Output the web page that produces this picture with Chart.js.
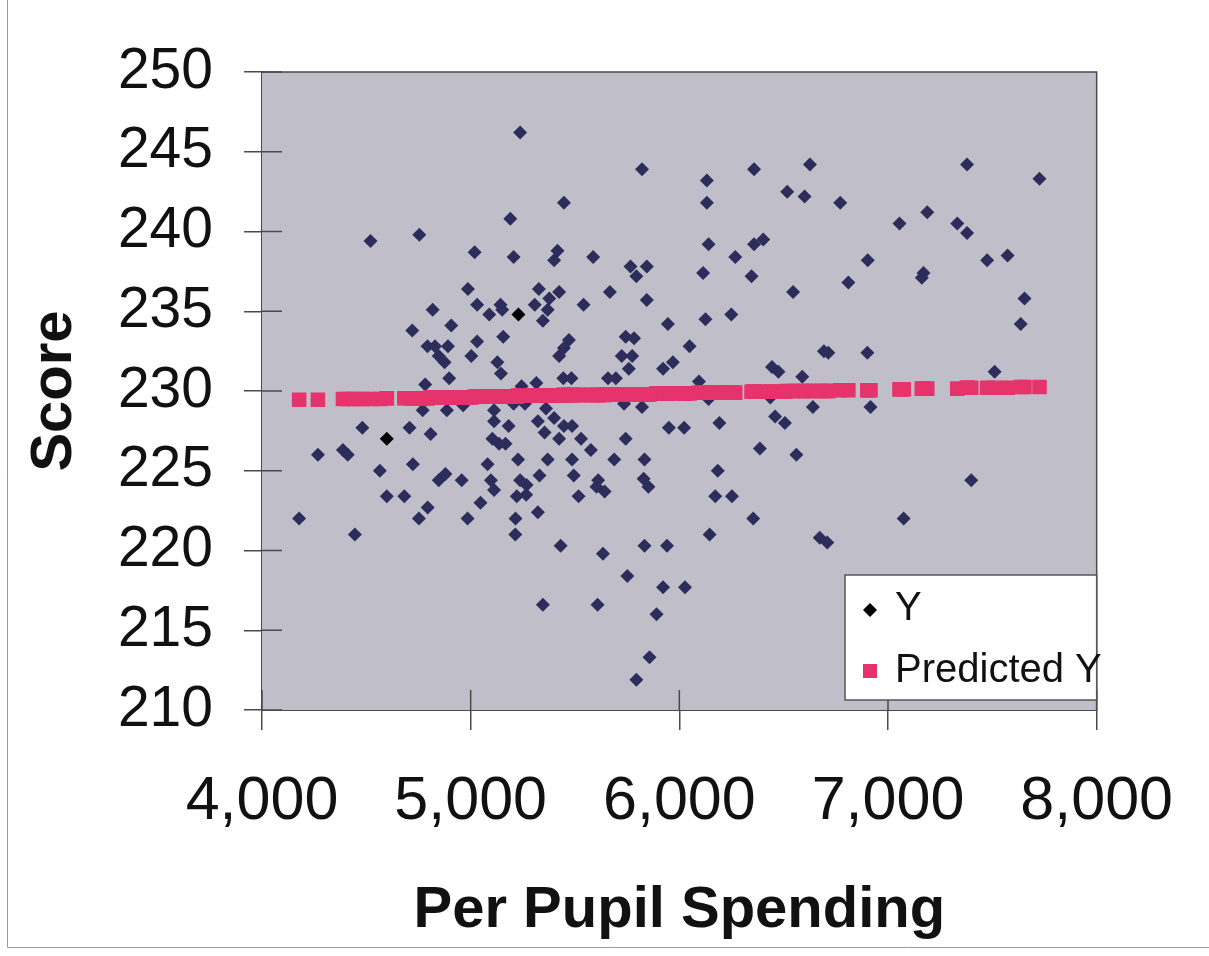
<!DOCTYPE html>
<html>
<head>
<meta charset="utf-8">
<script src="https://cdn.jsdelivr.net/npm/chart.js@4.4.1/dist/chart.umd.min.js"></script>
<style>
  html, body { margin: 0; padding: 0; background: #ffffff; }
  #wrap { position: relative; width: 1209px; height: 956px; }
  canvas { display: block; }
</style>
</head>
<body>
<div id="wrap"><canvas id="chart" width="1209" height="956"></canvas></div>
<script>
// Per pupil spending ($) for each district
const spending = [
  5237, 5190, 4520, 4754, 5019, 5206, 4987, 5031, 5143, 5151,
  5229, 5089, 4818, 4907, 4720, 5031, 5156, 4793, 4829, 4891,
  4847, 4875, 5003, 5128, 5145, 4897, 4782, 5244, 4770, 4886,
  4964, 5112, 5112, 5206, 5260, 4707, 4808, 4598, 4481, 5182,
  5104, 5136, 5167, 4268, 4388, 4411, 4565, 4723, 5081, 5227,
  4847, 4879, 4957, 5097, 5112, 5237, 5268, 5266, 5221, 4598,
  4682, 4794, 5047, 4752, 4985, 5215, 5214, 4178, 4445, 5327,
  5307, 5346, 5315, 5400, 5416, 5424, 5377, 5369, 5447, 5587,
  5541, 5667, 5766, 5794, 5844, 5844, 5821, 6132, 6132, 6358,
  6626, 6517, 6600, 6140, 6358, 6402, 6268, 6114, 6346, 6545,
  5945, 6125, 6249, 5471, 5447, 5424, 5743, 5783, 5724, 5774,
  5758, 5922, 5969, 6049, 6444, 6475, 6589, 6693, 5444, 5483,
  5658, 5696, 6094, 5361, 5735, 5821, 6140, 6436, 5400, 5322,
  5354, 5447, 5486, 5424, 5529, 5576, 5743, 5950, 6023, 6192,
  6459, 6506, 6640, 5369, 5486, 5688, 5833, 5330, 5494, 5611,
  5603, 5642, 5829, 5852, 6184, 5517, 6172, 6252, 6386, 6561,
  5322, 6354, 6145, 6673, 6709, 5431, 5634, 5833, 5941, 5751,
  5922, 6027, 5346, 5608, 5891, 5857, 5794, 6771, 7379, 7726,
  7188, 7055, 7332, 7379, 6903, 7170, 7162, 6810, 7475, 7573,
  7654, 7636, 6714, 6901, 7511, 6916, 7399, 7075
];

// Observed test score (Y)
const score = [
  246.2, 240.8, 239.4, 239.8, 238.7, 238.4, 236.4, 235.4, 235.4, 235.1,
  234.8, 234.8, 235.1, 234.1, 233.8, 233.1, 233.4, 232.8, 232.8, 232.8,
  232.2, 231.8, 232.2, 231.8, 231.1, 230.8, 230.4, 230.3, 228.8, 228.8,
  229.1, 228.8, 228.1, 229.2, 229.2, 227.7, 227.3, 227.0, 227.7, 227.8,
  227.0, 226.7, 226.7, 226.0, 226.3, 226.0, 225.0, 225.4, 225.4, 225.7,
  224.4, 224.8, 224.4, 224.4, 223.8, 224.4, 224.1, 223.5, 223.4, 223.4,
  223.4, 222.7, 223.0, 222.0, 222.0, 222.0, 221.0, 222.0, 221.0, 236.4,
  235.4, 234.4, 230.5, 238.2, 238.8, 236.2, 235.8, 235.1, 241.8, 238.4,
  235.4, 236.2, 237.8, 237.2, 237.8, 235.7, 243.9, 243.2, 241.8, 243.9,
  244.2, 242.5, 242.2, 239.2, 239.2, 239.5, 238.4, 237.4, 237.2, 236.2,
  234.2, 234.5, 234.8, 233.2, 232.7, 232.2, 233.4, 233.3, 232.2, 232.2,
  231.4, 231.4, 231.8, 232.8, 231.5, 231.2, 230.9, 232.5, 230.8, 230.8,
  230.8, 230.8, 230.6, 228.9, 229.2, 229.0, 229.5, 229.6, 228.3, 228.1,
  227.4, 227.8, 227.8, 227.0, 227.0, 226.3, 227.0, 227.7, 227.7, 228.0,
  228.4, 228.0, 229.0, 225.7, 225.7, 225.7, 225.7, 224.7, 224.7, 224.4,
  224.0, 223.7, 224.5, 224.0, 225.0, 223.4, 223.4, 223.4, 226.4, 226.0,
  222.4, 222.0, 221.0, 220.8, 220.5, 220.3, 219.8, 220.3, 220.3, 218.4,
  217.7, 217.7, 216.6, 216.6, 216.0, 213.3, 211.9, 241.8, 244.2, 243.3,
  241.2, 240.5, 240.5, 239.9, 238.2, 237.4, 237.1, 236.8, 238.2, 238.5,
  235.8, 234.2, 232.4, 232.4, 231.2, 229.0, 224.4, 222.0
];

// Fitted score (Predicted Y) at each district's spending level
const predicted = [
  229.70, 229.65, 229.50, 229.55, 229.65, 229.65, 229.60, 229.65, 229.65, 229.65,
  229.70, 229.65, 229.60, 229.60, 229.55, 229.65, 229.65, 229.55, 229.60, 229.60,
  229.60, 229.60, 229.60, 229.65, 229.65, 229.60, 229.55, 229.70, 229.55, 229.60,
  229.60, 229.65, 229.65, 229.65, 229.70, 229.55, 229.60, 229.55, 229.50, 229.65,
  229.65, 229.65, 229.65, 229.45, 229.50, 229.50, 229.50, 229.55, 229.65, 229.70,
  229.60, 229.60, 229.60, 229.65, 229.65, 229.70, 229.70, 229.70, 229.65, 229.55,
  229.55, 229.55, 229.65, 229.55, 229.60, 229.65, 229.65, 229.45, 229.50, 229.70,
  229.70, 229.70, 229.70, 229.70, 229.70, 229.70, 229.70, 229.70, 229.75, 229.75,
  229.75, 229.80, 229.80, 229.80, 229.80, 229.80, 229.80, 229.90, 229.90, 229.95,
  230.00, 230.00, 230.00, 229.90, 229.95, 229.95, 229.90, 229.90, 229.95, 230.00,
  229.85, 229.90, 229.90, 229.75, 229.75, 229.70, 229.80, 229.80, 229.80, 229.80,
  229.80, 229.85, 229.85, 229.85, 229.95, 229.95, 230.00, 230.00, 229.75, 229.75,
  229.80, 229.80, 229.90, 229.70, 229.80, 229.80, 229.90, 229.95, 229.70, 229.70,
  229.70, 229.75, 229.75, 229.70, 229.75, 229.75, 229.80, 229.85, 229.85, 229.90,
  229.95, 229.95, 230.00, 229.70, 229.75, 229.80, 229.80, 229.70, 229.75, 229.75,
  229.75, 229.75, 229.80, 229.80, 229.90, 229.75, 229.90, 229.90, 229.95, 230.00,
  229.70, 229.95, 229.90, 230.00, 230.00, 229.70, 229.75, 229.80, 229.85, 229.80,
  229.85, 229.85, 229.70, 229.75, 229.85, 229.80, 229.80, 230.05, 230.20, 230.25,
  230.15, 230.10, 230.15, 230.20, 230.05, 230.15, 230.15, 230.05, 230.20, 230.20,
  230.25, 230.25, 230.00, 230.05, 230.20, 230.05, 230.20, 230.10
];

// Two observations shown in black
const highlighted = [10, 37];

const xTickValues = [4000, 5000, 6000, 7000, 8000];
const yTickValues = [210, 215, 220, 225, 230, 235, 240, 245, 250];

const seriesNames = ['Y', 'Predicted Y'];
const axisTitles = { x: 'Per Pupil Spending', y: 'Score' };

const FONT = "'Liberation Sans', Arial, Helvetica, sans-serif";
const NAVY = '#2d2d5c';
const PINK = '#e6336b';
const PLOT_BG = '#c0bec9';
const AXIS = '#4a4a4a';

const yPoints = spending.map((x, i) => ({ x: x, y: score[i] }));
const pPoints = spending.map((x, i) => ({ x: x, y: predicted[i] }));
const yColors = spending.map((_, i) => highlighted.includes(i) ? '#000000' : NAVY);

// Gray plot area, closing frame and cross tick marks
const plotFrame = {
  id: 'plotFrame',
  beforeDatasetsDraw(chart) {
    const { ctx, chartArea: a } = chart;
    ctx.save();
    ctx.fillStyle = PLOT_BG;
    ctx.fillRect(a.left, a.top, a.right - a.left, a.bottom - a.top);
    ctx.restore();
  },
  afterDatasetsDraw(chart) {
    const { ctx, chartArea: a, scales } = chart;
    ctx.save();
    ctx.strokeStyle = AXIS;
    ctx.lineWidth = 1.5;
    ctx.beginPath();
    ctx.moveTo(a.left, a.top);
    ctx.lineTo(a.right, a.top);
    ctx.lineTo(a.right, a.bottom);
    ctx.stroke();
    // inner half of the cross tick marks
    ctx.beginPath();
    scales.x.ticks.forEach(t => {
      const px = scales.x.getPixelForValue(t.value);
      ctx.moveTo(px, a.bottom);
      ctx.lineTo(px, a.bottom - 20);
    });
    scales.y.ticks.forEach(t => {
      const py = scales.y.getPixelForValue(t.value);
      ctx.moveTo(a.left, py);
      ctx.lineTo(a.left + 20, py);
    });
    ctx.stroke();
    ctx.restore();
  }
};

// Boxed legend in the lower right corner of the plot
const boxLegend = {
  id: 'boxLegend',
  afterDraw(chart) {
    const { ctx, chartArea: a } = chart;
    const left = 845, top = 575, right = a.right, bottom = 700;
    ctx.save();
    ctx.fillStyle = '#ffffff';
    ctx.fillRect(left, top, right - left, bottom - top);
    ctx.strokeStyle = '#555555';
    ctx.lineWidth = 1.5;
    ctx.strokeRect(left, top, right - left, bottom - top);

    ctx.font = '40px ' + FONT;
    ctx.textBaseline = 'middle';
    ctx.textAlign = 'left';

    // Y marker: small black diamond
    ctx.fillStyle = '#000000';
    ctx.beginPath();
    ctx.moveTo(870, 603);
    ctx.lineTo(877, 610);
    ctx.lineTo(870, 617);
    ctx.lineTo(863, 610);
    ctx.closePath();
    ctx.fill();
    ctx.fillStyle = '#111111';
    ctx.fillText(seriesNames[0], 895, 609);

    // Predicted Y marker: pink square
    ctx.fillStyle = PINK;
    ctx.fillRect(863, 664, 14, 14);
    ctx.fillStyle = '#111111';
    ctx.fillText(seriesNames[1], 895, 671);
    ctx.restore();
  }
};

// Thin outline along the left and bottom edges of the figure
const outerEdge = {
  id: 'outerEdge',
  afterDraw(chart) {
    const { ctx } = chart;
    ctx.save();
    ctx.strokeStyle = '#9a9a9a';
    ctx.lineWidth = 1;
    ctx.beginPath();
    ctx.moveTo(7.5, 0);
    ctx.lineTo(7.5, 947.5);
    ctx.lineTo(1209, 947.5);
    ctx.stroke();
    ctx.restore();
  }
};

new Chart(document.getElementById('chart'), {
  type: 'scatter',
  data: {
    datasets: [
      {
        label: seriesNames[0],
        data: yPoints,
        order: 2,
        pointStyle: 'rectRot',
        pointRadius: 7,
        pointHoverRadius: 7,
        backgroundColor: yColors,
        borderWidth: 0
      },
      {
        label: seriesNames[1],
        data: pPoints,
        order: 1,
        pointStyle: 'rect',
        pointRadius: 10.3,
        pointHoverRadius: 10.3,
        backgroundColor: PINK,
        borderWidth: 0
      }
    ]
  },
  options: {
    responsive: false,
    animation: false,
    devicePixelRatio: 1,
    layout: { padding: { left: 0, top: 72, right: 91, bottom: 0 } },
    plugins: {
      legend: { display: false },
      tooltip: { enabled: false }
    },
    scales: {
      x: {
        type: 'linear',
        min: 4000,
        max: 8000,
        afterBuildTicks(scale) { scale.ticks = xTickValues.map(v => ({ value: v })); },
        afterFit(scale) { scale.height = 246; },
        ticks: {
          callback: v => Number(v).toLocaleString('en-US'),
          font: { family: FONT, size: 61 },
          color: '#111111',
          padding: 36,
          maxRotation: 0,
          autoSkip: false
        },
        grid: { drawOnChartArea: false, tickLength: 20, color: AXIS, lineWidth: 1.5 },
        border: { color: AXIS, width: 2 },
        title: {
          display: true,
          text: axisTitles.x,
          font: { family: FONT, size: 58, weight: 'bold' },
          color: '#111111',
          padding: { top: 0, bottom: 10 }
        }
      },
      y: {
        type: 'linear',
        min: 210,
        max: 250,
        afterBuildTicks(scale) { scale.ticks = yTickValues.map(v => ({ value: v })); },
        afterFit(scale) { scale.width = 262; },
        ticks: {
          font: { family: FONT, size: 57 },
          color: '#111111',
          padding: 31,
          autoSkip: false
        },
        grid: { drawOnChartArea: false, tickLength: 18, color: AXIS, lineWidth: 1.5 },
        border: { color: AXIS, width: 2 },
        title: {
          display: true,
          text: axisTitles.y,
          font: { family: FONT, size: 58, weight: 'bold' },
          color: '#111111',
          padding: { top: 20, bottom: 0 }
        }
      }
    }
  },
  plugins: [plotFrame, boxLegend, outerEdge]
});
</script>
</body>
</html>
